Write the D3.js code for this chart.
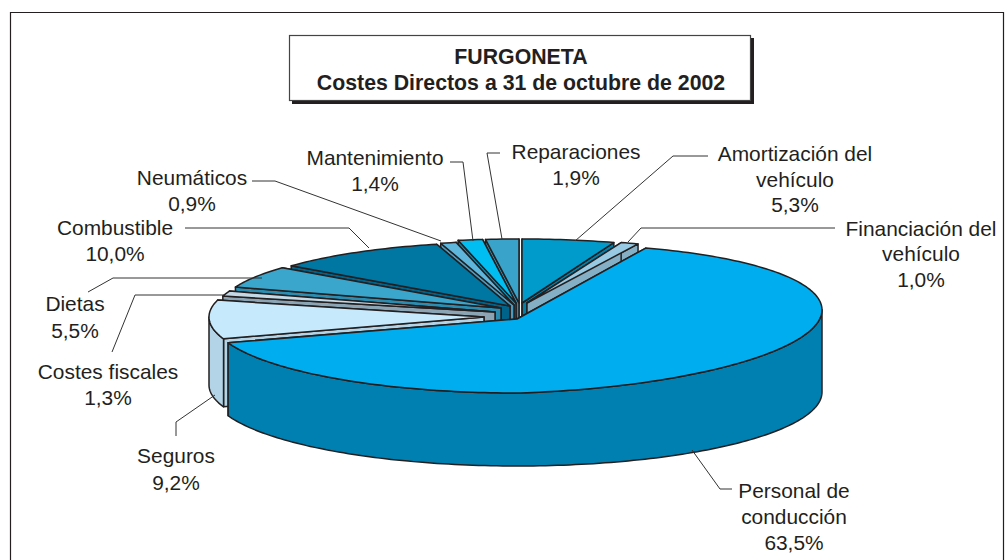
<!DOCTYPE html>
<html><head><meta charset="utf-8">
<script src="https://d3js.org/d3.v7.min.js"></script>
<style>html,body{margin:0;padding:0;background:#fff;overflow:hidden}svg{display:block}
text{font-family:"Liberation Sans",Arial,sans-serif;fill:#231f20}</style></head><body>
<svg id="c" width="1007" height="560"></svg>
<script>
const categories=["Amortización del vehículo","Financiación del vehículo","Personal de conducción","Seguros","Costes fiscales","Dietas","Combustible","Neumáticos","Mantenimiento","Reparaciones"];
const values=[5.3,1.0,63.5,9.2,1.3,5.5,10.0,0.9,1.4,1.9];
const titleLines=["FURGONETA","Costes Directos a 31 de octubre de 2002"];
const labelLines=[["Amortización del","vehículo"],["Financiación del","vehículo"],["Personal de","conducción"],["Seguros"],["Costes fiscales"],["Dietas"],["Combustible"],["Neumáticos"],["Mantenimiento"],["Reparaciones"]];

// drawing configuration, separate from the data
const topColors=["#009BCB","#98CAE3","#00ADEF","#C6E9FB","#C3D9E5","#3AA6CC","#0076A3","#5FB6DC","#00BDF2","#3AA3C9"];
const wallColors=["#007FA8","#84AFC5","#0080B0","#B3D4E6","#8CA5B5","#2B8DB0","#006389","#4C9BBF","#0098C4","#2F8BAD"];
const geom=[
 {cx:522,cy:303,rx:281,ry:64,d:20},{cx:527,cy:303,rx:288,ry:64,d:20},
 {cx:517,cy:319,rx:305,ry:74,d:73,tilt:0.03,trim:0.04},{cx:484,cy:317,rx:275,ry:68,d:68},
 {cx:495,cy:312,rx:281,ry:64,d:20},{cx:501,cy:308,rx:281,ry:64,d:20},
 {cx:510,cy:306,rx:281,ry:64,d:20},{cx:514,cy:305,rx:281,ry:64,d:20},
 {cx:516,cy:303,rx:281,ry:64,d:20},{cx:519,cy:303,rx:281,ry:64,d:20}];
const drawOrder=[0,1,9,8,7,6,5,4,3,2];
const labelPos=[
 {x:795,y:[161,187,212]},{x:921,y:[236,261,287]},{x:794,y:[498,524,550]},{x:176,y:[463,490]},
 {x:108,y:[379,405]},{x:75,y:[311,338]},{x:115,y:[235,261]},{x:192,y:[185,211]},{x:375,y:[165,191]},{x:576,y:[159,185]}];
const leaders=[
 [[575,241],[673,156],[708,156]],[[628,242],[641,228],[835,228]],[[692,450],[720,489],[732,489]],
 [[215,395],[176,422],[176,436]],[[225,295],[135,295],[112,352]],[[262,278],[113,278],[88,292]],
 [[369,248],[349,228],[185,228]],[[441,241],[275,181],[252,181]],[[473,241],[463,162],[450,162]],[[502,239],[487,153],[500,153]]];

const svg=d3.select("#c");
const line=d3.line();
const outline="#231f20";
const arcs=d3.pie().sort(null).value(d=>d)(values);

svg.append("path").attr("d","M10.5,560V12.5H1003.5V560").attr("fill","none").attr("stroke",outline).attr("stroke-width",1.2);
svg.append("rect").attr("x",292).attr("y",38).attr("width",462).attr("height",66).attr("fill",outline);
svg.append("rect").attr("x",289.5).attr("y",35.5).attr("width",461).attr("height",65).attr("fill","#fff").attr("stroke","#444").attr("stroke-width",1.2);
titleLines.forEach((t,i)=>svg.append("text").attr("x",521).attr("y",64+i*26).attr("text-anchor","middle").attr("font-weight","bold").attr("font-size",21.3).text(t));

function rim(g,a0,a1,dy){
  const n=Math.max(2,Math.ceil((a1-a0)/0.02));
  return d3.range(n+1).map(i=>{
    const a=a0+(a1-a0)*i/n,x=g.cx+g.rx*Math.sin(a);
    const t=(g.tilt&&dy===0&&x>g.cx)?g.tilt*(x-g.cx):0;
    return [x,g.cy-g.ry*Math.cos(a)+dy-t];
  });
}
const P=Math.PI;
drawOrder.forEach(i=>{
  const g=geom[i],a=arcs[i],s=a.startAngle+(g.trim||0),e=a.endAngle;
  const grp=svg.append("g").attr("stroke",outline).attr("stroke-width",1.5).attr("stroke-linejoin","round");
  const face=(p0,p1)=>grp.append("path").attr("fill",wallColors[i]).attr("d",line([p0,p1,[p1[0],p1[1]+g.d],[p0[0],p0[1]+g.d]])+"Z");
  const c=[g.cx,g.cy];
  const ps=rim(g,s,s,0)[0],pe=rim(g,e,e,0)[0];
  face(c,pe);face(c,ps);
  const w0=Math.max(s,P/2),w1=Math.min(e,3*P/2);
  if(w1>w0){
    const top=rim(g,w0,w1,0),bot=rim(g,w0,w1,g.d).reverse();
    grp.append("path").attr("fill",wallColors[i]).attr("d",line(top.concat(bot))+"Z");
  }
  grp.append("path").attr("fill",topColors[i]).attr("d",line([c].concat(rim(g,s,e,0)))+"Z");
});

leaders.forEach(l=>svg.append("path").attr("d",line(l)).attr("fill","none").attr("stroke","#333").attr("stroke-width",1));
categories.forEach((c,i)=>{
  const lines=labelLines[i].concat([d3.format(".1f")(values[i]).replace(".",",")+"%"]);
  lines.forEach((t,k)=>svg.append("text").attr("x",labelPos[i].x).attr("y",labelPos[i].y[k]).attr("text-anchor","middle").attr("font-size",20.9).text(t));
});
</script></body></html>
